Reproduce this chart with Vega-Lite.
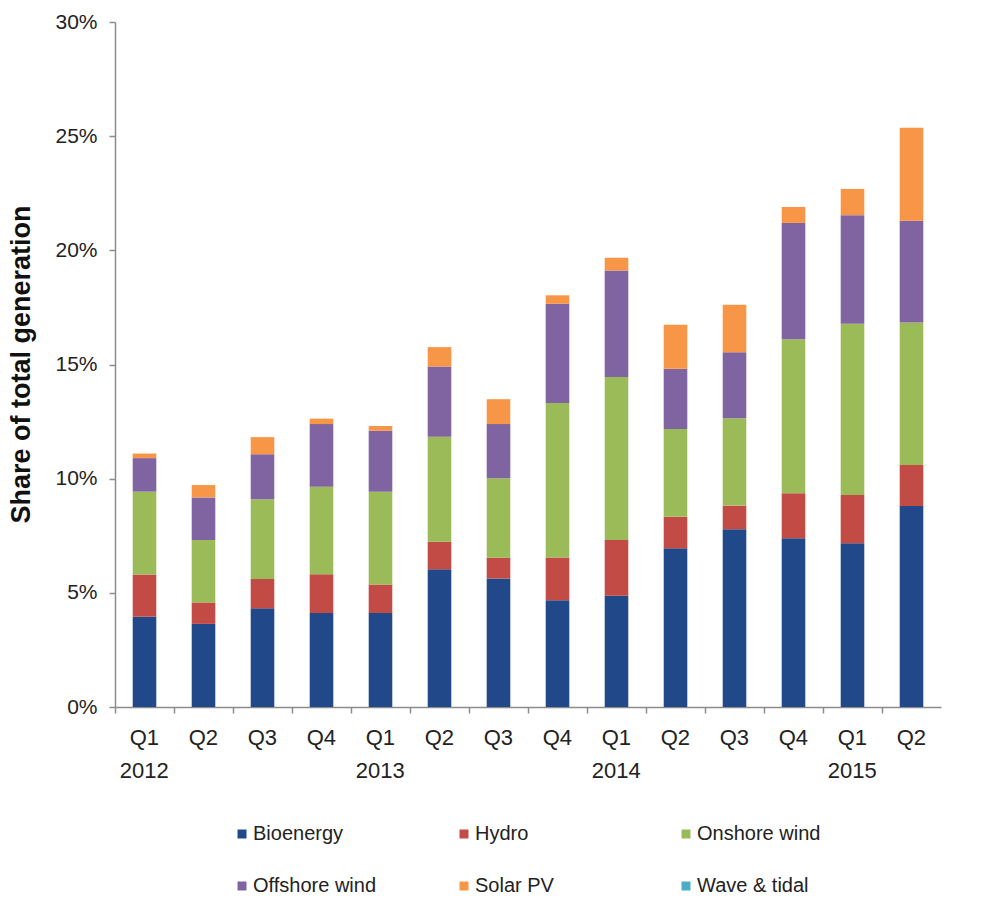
{
  "$schema": "https://vega.github.io/schema/vega-lite/v6.json",
  "width": 826,
  "height": 685,
  "autosize": {"type": "none"},
  "padding": {"left": 115, "top": 22, "right": 48, "bottom": 196},
  "background": "white",
  "config": {"view": {"stroke": null}},
  "data": {"values": [
    {"quarter": "Q1 2012", "source": "Bioenergy", "value": 3.95},
    {"quarter": "Q1 2012", "source": "Hydro", "value": 1.85},
    {"quarter": "Q1 2012", "source": "Onshore wind", "value": 3.63},
    {"quarter": "Q1 2012", "source": "Offshore wind", "value": 1.47},
    {"quarter": "Q1 2012", "source": "Solar PV", "value": 0.2},
    {"quarter": "Q1 2012", "source": "Wave & tidal", "value": 0},
    {"quarter": "Q2 2012", "source": "Bioenergy", "value": 3.64},
    {"quarter": "Q2 2012", "source": "Hydro", "value": 0.94},
    {"quarter": "Q2 2012", "source": "Onshore wind", "value": 2.73},
    {"quarter": "Q2 2012", "source": "Offshore wind", "value": 1.87},
    {"quarter": "Q2 2012", "source": "Solar PV", "value": 0.54},
    {"quarter": "Q2 2012", "source": "Wave & tidal", "value": 0},
    {"quarter": "Q3 2012", "source": "Bioenergy", "value": 4.32},
    {"quarter": "Q3 2012", "source": "Hydro", "value": 1.29},
    {"quarter": "Q3 2012", "source": "Onshore wind", "value": 3.49},
    {"quarter": "Q3 2012", "source": "Offshore wind", "value": 1.97},
    {"quarter": "Q3 2012", "source": "Solar PV", "value": 0.75},
    {"quarter": "Q3 2012", "source": "Wave & tidal", "value": 0},
    {"quarter": "Q4 2012", "source": "Bioenergy", "value": 4.12},
    {"quarter": "Q4 2012", "source": "Hydro", "value": 1.69},
    {"quarter": "Q4 2012", "source": "Onshore wind", "value": 3.84},
    {"quarter": "Q4 2012", "source": "Offshore wind", "value": 2.74},
    {"quarter": "Q4 2012", "source": "Solar PV", "value": 0.24},
    {"quarter": "Q4 2012", "source": "Wave & tidal", "value": 0},
    {"quarter": "Q1 2013", "source": "Bioenergy", "value": 4.12},
    {"quarter": "Q1 2013", "source": "Hydro", "value": 1.25},
    {"quarter": "Q1 2013", "source": "Onshore wind", "value": 4.06},
    {"quarter": "Q1 2013", "source": "Offshore wind", "value": 2.67},
    {"quarter": "Q1 2013", "source": "Solar PV", "value": 0.21},
    {"quarter": "Q1 2013", "source": "Wave & tidal", "value": 0},
    {"quarter": "Q2 2013", "source": "Bioenergy", "value": 6.03},
    {"quarter": "Q2 2013", "source": "Hydro", "value": 1.21},
    {"quarter": "Q2 2013", "source": "Onshore wind", "value": 4.6},
    {"quarter": "Q2 2013", "source": "Offshore wind", "value": 3.07},
    {"quarter": "Q2 2013", "source": "Solar PV", "value": 0.85},
    {"quarter": "Q2 2013", "source": "Wave & tidal", "value": 0},
    {"quarter": "Q3 2013", "source": "Bioenergy", "value": 5.63},
    {"quarter": "Q3 2013", "source": "Hydro", "value": 0.91},
    {"quarter": "Q3 2013", "source": "Onshore wind", "value": 3.48},
    {"quarter": "Q3 2013", "source": "Offshore wind", "value": 2.37},
    {"quarter": "Q3 2013", "source": "Solar PV", "value": 1.09},
    {"quarter": "Q3 2013", "source": "Wave & tidal", "value": 0},
    {"quarter": "Q4 2013", "source": "Bioenergy", "value": 4.68},
    {"quarter": "Q4 2013", "source": "Hydro", "value": 1.87},
    {"quarter": "Q4 2013", "source": "Onshore wind", "value": 6.76},
    {"quarter": "Q4 2013", "source": "Offshore wind", "value": 4.35},
    {"quarter": "Q4 2013", "source": "Solar PV", "value": 0.37},
    {"quarter": "Q4 2013", "source": "Wave & tidal", "value": 0},
    {"quarter": "Q1 2014", "source": "Bioenergy", "value": 4.87},
    {"quarter": "Q1 2014", "source": "Hydro", "value": 2.44},
    {"quarter": "Q1 2014", "source": "Onshore wind", "value": 7.14},
    {"quarter": "Q1 2014", "source": "Offshore wind", "value": 4.67},
    {"quarter": "Q1 2014", "source": "Solar PV", "value": 0.55},
    {"quarter": "Q1 2014", "source": "Wave & tidal", "value": 0},
    {"quarter": "Q2 2014", "source": "Bioenergy", "value": 6.95},
    {"quarter": "Q2 2014", "source": "Hydro", "value": 1.38},
    {"quarter": "Q2 2014", "source": "Onshore wind", "value": 3.85},
    {"quarter": "Q2 2014", "source": "Offshore wind", "value": 2.63},
    {"quarter": "Q2 2014", "source": "Solar PV", "value": 1.93},
    {"quarter": "Q2 2014", "source": "Wave & tidal", "value": 0},
    {"quarter": "Q3 2014", "source": "Bioenergy", "value": 7.79},
    {"quarter": "Q3 2014", "source": "Hydro", "value": 1.03},
    {"quarter": "Q3 2014", "source": "Onshore wind", "value": 3.83},
    {"quarter": "Q3 2014", "source": "Offshore wind", "value": 2.89},
    {"quarter": "Q3 2014", "source": "Solar PV", "value": 2.08},
    {"quarter": "Q3 2014", "source": "Wave & tidal", "value": 0},
    {"quarter": "Q4 2014", "source": "Bioenergy", "value": 7.39},
    {"quarter": "Q4 2014", "source": "Hydro", "value": 1.97},
    {"quarter": "Q4 2014", "source": "Onshore wind", "value": 6.75},
    {"quarter": "Q4 2014", "source": "Offshore wind", "value": 5.09},
    {"quarter": "Q4 2014", "source": "Solar PV", "value": 0.7},
    {"quarter": "Q4 2014", "source": "Wave & tidal", "value": 0},
    {"quarter": "Q1 2015", "source": "Bioenergy", "value": 7.17},
    {"quarter": "Q1 2015", "source": "Hydro", "value": 2.12},
    {"quarter": "Q1 2015", "source": "Onshore wind", "value": 7.5},
    {"quarter": "Q1 2015", "source": "Offshore wind", "value": 4.75},
    {"quarter": "Q1 2015", "source": "Solar PV", "value": 1.15},
    {"quarter": "Q1 2015", "source": "Wave & tidal", "value": 0},
    {"quarter": "Q2 2015", "source": "Bioenergy", "value": 8.8},
    {"quarter": "Q2 2015", "source": "Hydro", "value": 1.8},
    {"quarter": "Q2 2015", "source": "Onshore wind", "value": 6.24},
    {"quarter": "Q2 2015", "source": "Offshore wind", "value": 4.46},
    {"quarter": "Q2 2015", "source": "Solar PV", "value": 4.07},
    {"quarter": "Q2 2015", "source": "Wave & tidal", "value": 0}
  ]},
  "transform": [
    {"calculate": "indexof(['Bioenergy', 'Hydro', 'Onshore wind', 'Offshore wind', 'Solar PV', 'Wave & tidal'], datum.source)", "as": "stackOrder"}
  ],
  "mark": {"type": "bar"},
  "encoding": {
    "x": {
      "field": "quarter",
      "type": "nominal",
      "sort": null,
      "scale": {"paddingInner": 0.6, "paddingOuter": 0.3},
      "axis": {
        "title": null,
        "labelAngle": 0,
        "labelExpr": "indexof(datum.value, 'Q1') == 0 ? split(datum.value, ' ') : substring(datum.value, 0, 2)",
        "labelFont": "Liberation Sans",
        "labelFontSize": 22,
        "labelColor": "#222222",
        "labelLineHeight": 33,
        "labelPadding": 14,
        "bandPosition": 0,
        "tickOffset": -17.7,
        "labelOffset": 17,
        "ticks": true,
        "tickSize": 6,
        "tickColor": "#8c8c8c",
        "tickWidth": 1.5,
        "domainColor": "#8c8c8c",
        "domainWidth": 1.5,
        "grid": false
      }
    },
    "y": {
      "field": "value",
      "type": "quantitative",
      "stack": "zero",
      "scale": {"domain": [0, 30], "nice": false},
      "axis": {
        "values": [0, 5, 10, 15, 20, 25, 30],
        "labelExpr": "datum.value + '%'",
        "labelFont": "Liberation Sans",
        "labelFontSize": 21,
        "labelColor": "#222222",
        "labelPadding": 12,
        "tickSize": 6,
        "tickColor": "#8c8c8c",
        "tickWidth": 1.5,
        "domainColor": "#8c8c8c",
        "domainWidth": 1.5,
        "grid": false,
        "title": "Share of total generation",
        "titleFont": "Liberation Sans",
        "titleFontWeight": "bold",
        "titleFontSize": 27,
        "titleColor": "#111111",
        "titleAngle": 270,
        "titleAlign": "center",
        "titleBaseline": "middle",
        "titleX": -94,
        "titleY": 342
      }
    },
    "color": {
      "field": "source",
      "type": "nominal",
      "scale": {
        "domain": ["Bioenergy", "Hydro", "Onshore wind", "Offshore wind", "Solar PV", "Wave & tidal"],
        "range": ["#21498a", "#c24b45", "#9bbb59", "#8064a2", "#f79646", "#4bacc6"]
      },
      "legend": {
        "title": null,
        "orient": "none",
        "legendX": 117,
        "legendY": 802,
        "direction": "horizontal",
        "columns": 3,
        "gridAlign": "all",
        "columnPadding": 77,
        "rowPadding": 32,
        "symbolType": "square",
        "symbolSize": 81,
        "labelFont": "Liberation Sans",
        "labelFontSize": 20,
        "labelColor": "#222222",
        "labelOffset": 1
      }
    },
    "order": {"field": "stackOrder", "type": "quantitative", "sort": "ascending"}
  }
}
